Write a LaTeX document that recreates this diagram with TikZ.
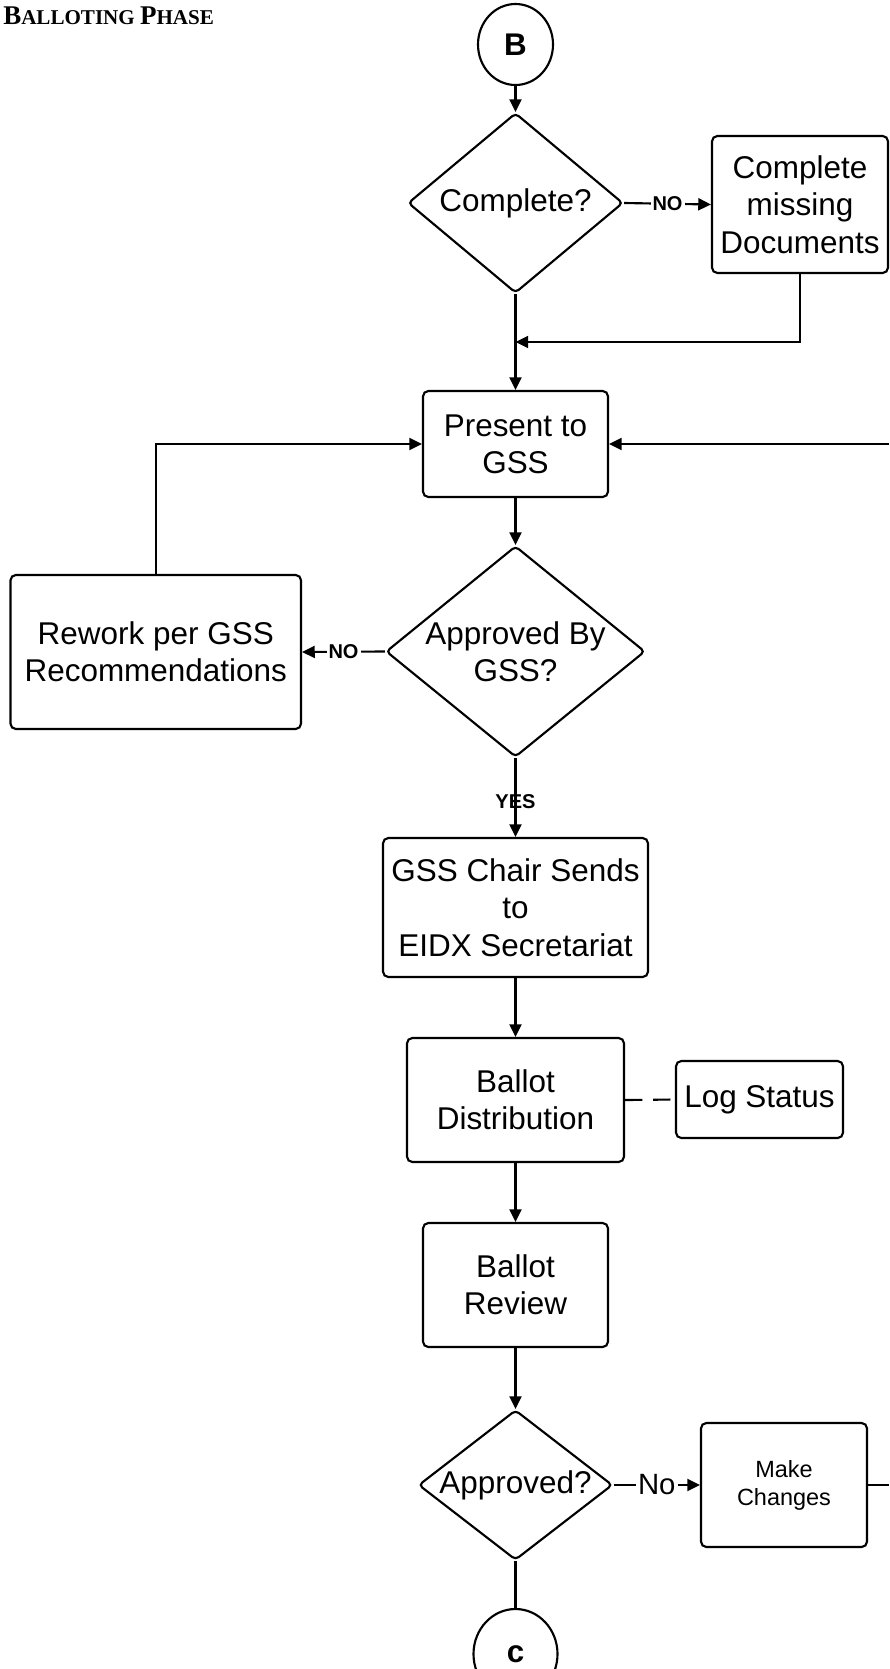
\documentclass[tikz,border=0pt]{standalone}
\usepackage{fontspec}
\setmainfont{Liberation Sans}
\newfontfamily\headingfont{Liberation Serif}
\usetikzlibrary{shapes.geometric,arrows.meta}

\newcommand\stepfont{\fontsize{23.6pt}{28pt}\selectfont}
\newcommand\smallstepfont{\fontsize{17.6pt}{21pt}\selectfont}
\newcommand\tagfont{\bfseries\fontsize{15pt}{18pt}\selectfont}

\tikzset{
  conn/.style={line width=1.6pt},
  flow/.style={conn, -{Triangle[length=9.5pt,width=9pt]}},
  stepbox/.style={draw, line width=1.6pt, rounded corners=4pt, align=center,
                  inner sep=0pt, font=\stepfont},
  decision/.style={draw, line width=1.6pt, shape=diamond, rounded corners=3pt,
                   inner sep=0pt},
  decisiontext/.style={align=center, inner sep=0pt, font=\stepfont},
  connector/.style={draw, line width=1.6pt, shape=ellipse, inner sep=0pt,
                    font=\bfseries\fontsize{23.5pt}{27pt}\selectfont},
  nolabel/.style={fill=white, inner sep=1.5pt, font=\tagfont},
  yeslabel/.style={inner sep=0pt, font=\tagfont},
}

\begin{document}
\begin{tikzpicture}[x=0.75pt, y=-0.75pt]
\useasboundingbox (0,0) rectangle (889,1669);
\clip (0,0) rectangle (889,1669);

% heading
\node[anchor=base west, inner sep=0pt] (title) at (3,25)
  {\headingfont\bfseries\fontsize{20.25pt}{24pt}\selectfont B\fontsize{15.8pt}{19pt}\selectfont ALLOTING
   \fontsize{20.25pt}{24pt}\selectfont P\fontsize{15.8pt}{19pt}\selectfont HASE};

% shapes
\node[connector, minimum width=56.25pt, minimum height=60.75pt] (B) at (515.5,44.5) {B};

\node[decision, minimum width=161.25pt, minimum height=135pt] (q1) at (515.5,203) {};
\node[decisiontext] (q1t) at (q1.center) {Complete?};

\node[stepbox, minimum width=132pt, minimum height=102.75pt] (cmd) at (800,204.5)
  {Complete\\missing\\Documents};

\node[stepbox, minimum width=138.75pt, minimum height=79.5pt] (pres) at (515.5,444)
  {Present to\\GSS};

\node[decision, minimum width=194.25pt, minimum height=158.25pt] (q2) at (515.5,651.5) {};
\node[decisiontext] (q2t) at (q2.center) {Approved By\\GSS?};

\node[stepbox, minimum width=217.9pt, minimum height=115.5pt] (rework) at (155.75,652)
  {Rework per GSS\\Recommendations};

\node[stepbox, minimum width=198.75pt, minimum height=104.25pt] (chair) at (515.5,907.5)
  {GSS Chair Sends\\to\\EIDX Secretariat};

\node[stepbox, minimum width=162.75pt, minimum height=93pt] (dist) at (515.5,1100)
  {Ballot\\Distribution};

\node[stepbox, minimum width=125.25pt, minimum height=57.75pt] (log) at (759.5,1099.5)
  {Log Status};

\node[stepbox, minimum width=138.75pt, minimum height=93pt] (review) at (515.5,1285)
  {Ballot\\Review};

\node[decision, minimum width=145.5pt, minimum height=112.5pt] (q3) at (515.5,1485) {};
\node[decisiontext] (q3t) at (q3.center) {Approved?};

\node[stepbox, minimum width=124.5pt, minimum height=93pt, font=\smallstepfont] (mc) at (784,1485)
  {Make\\Changes};

\node[connector, minimum width=63pt, minimum height=67.5pt] (C) at (515.5,1654) {c};

% loose ends and junctions
\coordinate (j1) at (515.5,342);
\coordinate (rin) at (889,444);
\coordinate (rout) at (889,1485);

% connectors
\draw[flow] (B.south) -- (q1.north);
\draw[flow] (q1.east) -- node[nolabel] (lno1) {NO} (cmd.west);
\draw[flow] (cmd.south) |- (j1);
\draw[flow] (q1.south) -- (pres.north);
\draw[flow] (rin) -- (pres.east);
\draw[flow] (rework.north) |- (pres.west);
\draw[flow] (pres.south) -- (q2.north);
\draw[flow] (q2.west) -- node[nolabel] (lno2) {NO} (rework.east);
\draw[flow] (q2.south) -- node[pos=0.55, yeslabel] (lyes) {YES} (chair.north);
\draw[flow] (chair.south) -- (dist.north);
\draw[conn, dash pattern=on 13pt off 8pt] (dist.east) -- (log.west);
\draw[flow] (dist.south) -- (review.north);
\draw[flow] (review.south) -- (q3.north);
\draw[flow] (q3.east) -- node[nolabel, font=\fontsize{22pt}{26pt}\selectfont] (lno3) {No} (mc.west);
\draw[conn] (mc.east) -- (rout);
\draw[conn] (q3.south) -- (C.north);
\end{tikzpicture}
\end{document}
